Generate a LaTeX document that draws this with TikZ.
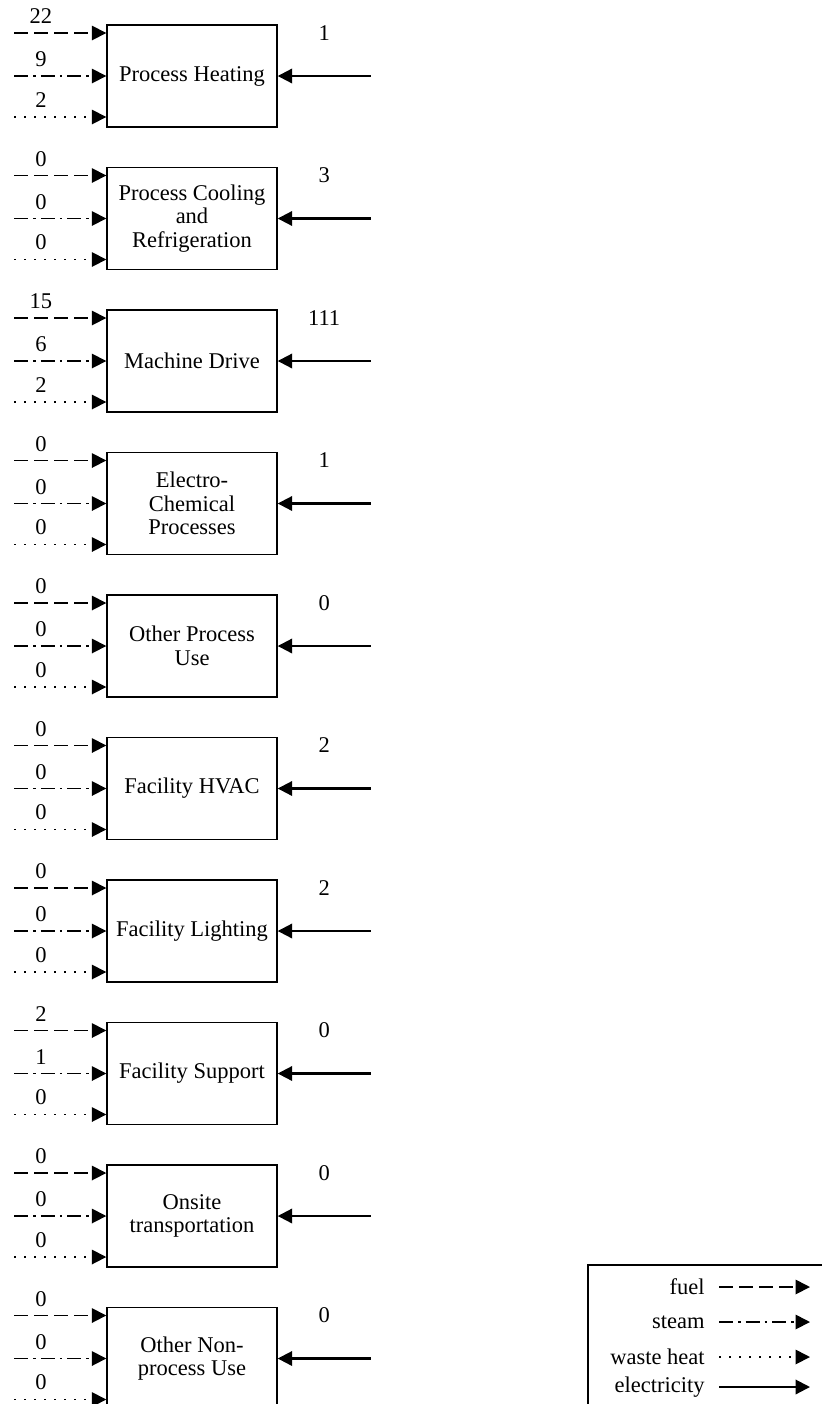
\documentclass[tikz,border=0pt]{standalone}
\usepackage{fontspec}
\setmainfont{Liberation Serif}
\usetikzlibrary{arrows.meta,positioning}
\tikzset{
  flow/.style={line width=1.0pt,-{Triangle[length=2.9mm,width=2.9mm]}},
  fuel/.style={flow,dash pattern=on 0.27cm off 0.13cm},
  steam/.style={flow,dash pattern=on 0.28cm off 0.1cm on 0.05cm off 0.1cm},
  waste/.style={flow,dash pattern=on 0.035cm off 0.165cm},
  elec/.style={flow,line width=1.2pt},
  usebox/.style={draw,line width=0.8pt,minimum width=3.40cm,minimum height=2.04cm,
                 inner sep=0pt,align=center,font=\fontsize{12.8}{13.4}\selectfont},
  num/.style={font=\fontsize{12.8}{13.4}\selectfont,inner sep=0pt},
  legtxt/.style={font=\fontsize{12.8}{13.4}\selectfont,anchor=east,inner sep=0pt}
}
\begin{document}
\begin{tikzpicture}[x=1cm,y=1cm]
  \useasboundingbox (0,0) rectangle (16.42,-28.08);

  % End-use boxes, one per row.
  \node[usebox] (heat) at (3.84,-1.52) {Process Heating};
  \node[usebox] (cool) at (3.84,-4.37) {Process Cooling\\and\\Refrigeration};
  \node[usebox] (drive) at (3.84,-7.22) {Machine Drive};
  \node[usebox] (echem) at (3.84,-10.07) {Electro-\\Chemical\\Processes};
  \node[usebox] (otherproc) at (3.84,-12.92) {Other Process\\Use};
  \node[usebox] (hvac) at (3.84,-15.77) {Facility HVAC};
  \node[usebox] (light) at (3.84,-18.62) {Facility Lighting};
  \node[usebox] (support) at (3.84,-21.47) {Facility Support};
  \node[usebox] (transp) at (3.84,-24.32) {Onsite\\transportation};
  \node[usebox] (nonproc) at (3.84,-27.17) {Other Non-\\process Use};

  % Inflows: fuel, steam, waste heat on the left, electricity on the right.
  \foreach \b/\f/\s/\w/\e in {heat/22/9/2/1, cool/0/0/0/3, drive/15/6/2/111,
      echem/0/0/0/1, otherproc/0/0/0/0, hvac/0/0/0/2, light/0/0/0/2,
      support/2/1/0/0, transp/0/0/0/0, nonproc/0/0/0/0} {
    \coordinate (\b-f) at ([xshift=-1.84cm,yshift=0.86cm]\b.west);
    \coordinate (\b-s) at ([xshift=-1.84cm]\b.west);
    \coordinate (\b-w) at ([xshift=-1.84cm,yshift=-0.82cm]\b.west);
    \coordinate (\b-e) at ([xshift=1.86cm]\b.east);
    \draw[fuel] (\b-f) -- node[num,pos=0.29,yshift=0.33cm] {\f} ([yshift=0.86cm]\b.west);
    \draw[steam] (\b-s) -- node[num,pos=0.29,yshift=0.33cm] {\s} (\b.west);
    \draw[waste] (\b-w) -- node[num,pos=0.29,yshift=0.34cm] {\w} ([yshift=-0.82cm]\b.west);
    \draw[elec] (\b-e) -- node[num,midway,yshift=0.86cm] {\e} (\b.east);
  }

  % Legend, cut by the page edge.
  \draw[line width=0.8pt] (11.76,-25.30) rectangle (17.0,-29.0);
  \node[legtxt] (lfuel) at (14.10,-25.74) {fuel};
  \node[legtxt] (lsteam) at (14.10,-26.44) {steam};
  \node[legtxt] (lwaste) at (14.10,-27.14) {waste heat};
  \node[legtxt] (lelec) at (14.10,-27.74) {electricity};
  \foreach \l/\s in {lfuel/fuel, lsteam/steam, lwaste/waste, lelec/elec} {
    \coordinate (\l-end) at ([xshift=2.10cm]\l.east);
    \draw[\s] ([xshift=0.28cm]\l.east) -- (\l-end);
  }
\end{tikzpicture}
\end{document}
